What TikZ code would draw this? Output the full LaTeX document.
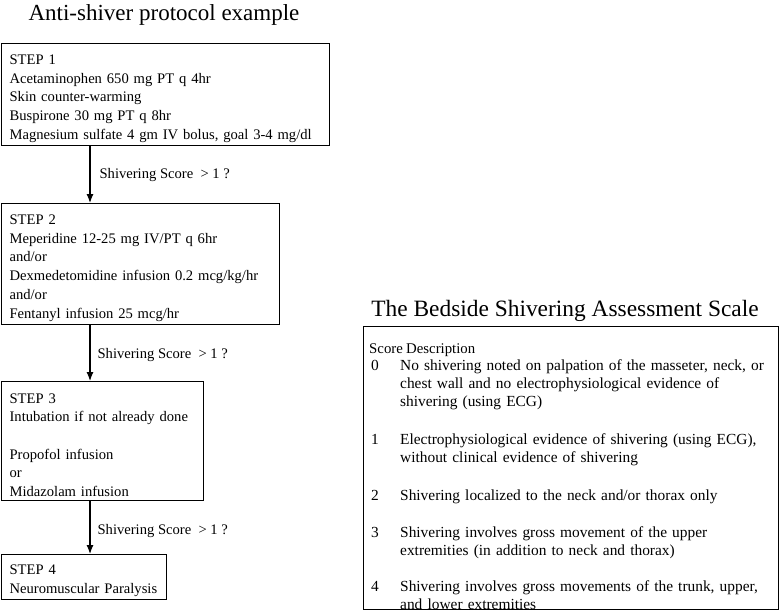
\documentclass[tikz,border=0pt]{standalone}
\usepackage{fontspec}
\setmainfont{Liberation Serif}
\usetikzlibrary{arrows.meta}
\begin{document}
\begin{tikzpicture}
	[x=1pt,y=-1pt,
	stepbox/.style={draw,line width=1.2pt,anchor=north west,align=left,inner xsep=8pt,inner ysep=0pt,font=\fontsize{14.6}{18.7}\selectfont,execute at begin node=\rule{0pt}{17.5pt}},
	ask/.style={right,inner sep=0pt,xshift=9pt,font=\fontsize{14.6}{18.7}\selectfont},
	title/.style={anchor=base,inner sep=0pt,font=\fontsize{23}{27}\selectfont},
	row/.style={anchor=base west,inner sep=0pt,align=left,text width=375pt,font=\fontsize{15.4}{18.4}\selectfont},
	>={Latex[length=9pt,width=7pt]}]
	\useasboundingbox (0,0) rectangle (780,613);
	% protocol
	\node[title,name=head1]at(164,20){Anti-shiver protocol example};
	\node[stepbox,name=step1,text width=312pt,minimum height=102pt]at(1,43){STEP 1\\Acetaminophen 650 mg PT q 4hr\\Skin counter-warming\\Buspirone 30 mg PT q 8hr\\Magnesium sulfate 4 gm IV bolus, goal 3-4 mg/dl};
	\node[stepbox,name=step2,text width=262pt,minimum height=121pt]at(1,203){STEP 2\\Meperidine 12-25 mg IV/PT q 6hr\\and/or\\Dexmedetomidine infusion 0.2 mcg/kg/hr\\and/or\\Fentanyl infusion 25 mcg/hr};
	\node[stepbox,name=step3,text width=186pt,minimum height=119pt]at(1,381){STEP 3\\Intubation if not already done\\[18.7pt]Propofol infusion\\or\\Midazolam infusion};
	\node[stepbox,name=step4,text width=149pt,minimum height=45pt]at(1,554){STEP 4\\Neuromuscular Paralysis};
	\draw[->,line width=1.2pt] ([xshift=89pt]step1.south west) -- ([xshift=89pt]step2.north west) node[ask,midway]{Shivering Score\ \ > 1 ?};
	\draw[->,line width=1.2pt] ([xshift=89pt]step2.south west) -- ([xshift=89pt]step3.north west) node[ask,midway,xshift=-2pt,yshift=-2pt]{Shivering Score\ \ > 1 ?};
	\draw[->,line width=1.2pt] ([xshift=89pt]step3.south west) -- ([xshift=89pt]step4.north west) node[ask,midway,xshift=-2pt,yshift=-3pt]{Shivering Score\ \ > 1 ?};
	% scale
	\node[title,name=head2,font=\fontsize{23.4}{27}\selectfont]at(565,316){The Bedside Shivering Assessment Scale};
	\node[draw,line width=1.2pt,anchor=north west,minimum width=415pt,minimum height=283pt,inner sep=0pt,name=scale]at(363,326){};
	\node[row,name=score,font=\fontsize{14.8}{18}\selectfont]at(369,353){Score};
	\node[row,name=descr,font=\fontsize{14.8}{18}\selectfont]at(406,353){Description};
	\node[row,name=s0]at(371,370){0};
	\node[row,name=d0]at(400,370){No shivering noted on palpation of the masseter, neck, or\\chest wall and no electrophysiological evidence of\\shivering (using ECG)};
	\node[row,name=s1]at(371,444){1};
	\node[row,name=d1]at(400,444){Electrophysiological evidence of shivering (using ECG),\\without clinical evidence of shivering};
	\node[row,name=s2]at(371,500){2};
	\node[row,name=d2]at(400,500){Shivering localized to the neck and/or thorax only};
	\node[row,name=s3]at(371,537){3};
	\node[row,name=d3]at(400,537){Shivering involves gross movement of the upper\\extremities (in addition to neck and thorax)};
	\node[row,name=s4]at(371,591){4};
	\node[row,name=d4]at(400,591){Shivering involves gross movements of the trunk, upper,\\and lower extremities};
\end{tikzpicture}
\end{document}
